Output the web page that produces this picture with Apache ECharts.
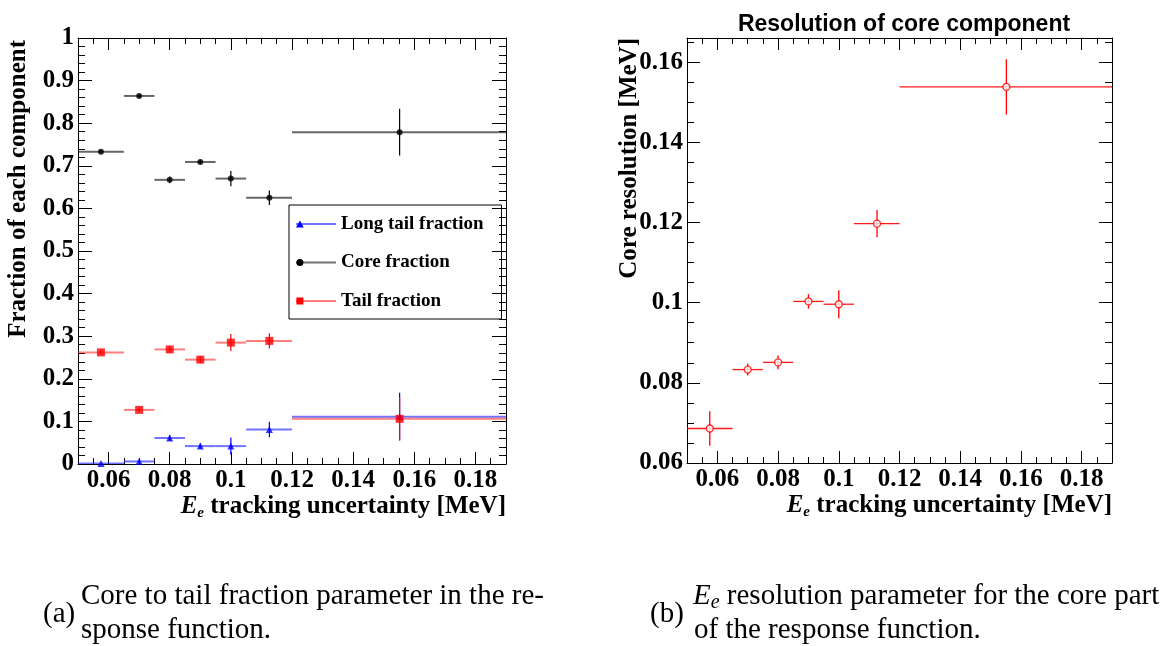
<!DOCTYPE html>
<html><head><meta charset="utf-8">
<script src="https://cdn.jsdelivr.net/npm/echarts@6/dist/echarts.min.js"></script>
<style>html,body{margin:0;padding:0;background:#fff}#c{width:1164px;height:646px}</style>
</head><body><div id="c"></div>
<script>
// ---- data ----
const binLow    = [0.05, 0.065, 0.075, 0.085, 0.095, 0.105, 0.12];
const binHigh   = [0.065, 0.075, 0.085, 0.095, 0.105, 0.12, 0.19];
const binCenter = [0.0575, 0.07, 0.08, 0.09, 0.1, 0.1126, 0.1552];

const longTailFrac = [0.001, 0.006, 0.061, 0.042, 0.042, 0.081, 0.111];
const longTailErr  = [0.001, 0.003, 0.007, 0.006, 0.020, 0.018, 0.056];
const coreFrac     = [0.733, 0.864, 0.667, 0.709, 0.670, 0.625, 0.779];
const coreErr      = [0.004, 0.004, 0.008, 0.005, 0.018, 0.017, 0.055];
const tailFrac     = [0.262, 0.127, 0.269, 0.245, 0.285, 0.289, 0.106];
const tailErr      = [0.005, 0.005, 0.008, 0.008, 0.020, 0.018, 0.050];

const coreRes    = [0.0686, 0.0833, 0.0851, 0.1003, 0.0996, 0.1197, 0.1538];
const coreResErr = [0.0043, 0.0015, 0.0017, 0.0018, 0.0035, 0.0034, 0.0069];

const legendNames = ['Long tail fraction', 'Core fraction', 'Tail fraction'];
const leftTitleY  = 'Fraction of each component';
const rightTitleY = 'Core resolution [MeV]';
const titleX      = '{i|E}{s|e}{n| tracking uncertainty [MeV]}';
const rightTitle  = 'Resolution of core component';

// ---- styling helpers ----
const SERIF = "'Liberation Serif','Times New Roman',serif";
const SANS  = "'Liberation Sans',Arial,sans-serif";

function fmt(step) {
  return function (v) {
    const r = v / step;
    if (Math.abs(r - Math.round(r)) > 1e-6) return '';
    return String(parseFloat(v.toFixed(4)));
  };
}
const labelStyle = {fontFamily: SERIF, fontWeight: 'bold', fontSize: 25, color: '#000'};

function xAxes(gi) {
  const base = {type: 'value', gridIndex: gi, min: 0.05, max: 0.19, splitLine: {show: false}};
  return [
    Object.assign({}, base, {
      position: 'bottom', splitNumber: 7,
      axisLine: {show: true, onZero: false, lineStyle: {color: '#000', width: 1}},
      axisTick: {inside: true, length: 12, lineStyle: {color: '#000', width: 1}},
      axisLabel: Object.assign({margin: 4, formatter: fmt(0.02), showMinLabel: false, showMaxLabel: false}, labelStyle),
      name: titleX, nameLocation: 'end', nameGap: 0, nameMoveOverlap: false,
      nameTextStyle: {
        align: 'right', verticalAlign: 'top', padding: [29, 0, 0, 0], lineHeight: 28, color: '#000',
        rich: {
          i: {fontFamily: SERIF, fontWeight: 'bold', fontStyle: 'italic', fontSize: 25, lineHeight: 28, color: '#000'},
          s: {fontFamily: SERIF, fontWeight: 'bold', fontStyle: 'italic', fontSize: 15, lineHeight: 28, verticalAlign: 'bottom', color: '#000'},
          n: {fontFamily: SERIF, fontWeight: 'bold', fontSize: 25, lineHeight: 28, color: '#000'}
        }
      }
    }),
    Object.assign({}, base, {
      position: 'bottom', interval: 0.005,
      axisLine: {show: false, onZero: false},
      axisTick: {inside: true, length: 6, lineStyle: {color: '#000', width: 1}},
      axisLabel: {show: false}
    }),
    Object.assign({}, base, {
      position: 'top', splitNumber: 7,
      axisLine: {show: true, onZero: false, lineStyle: {color: '#000', width: 1}},
      axisTick: {inside: true, length: 12, lineStyle: {color: '#000', width: 1}},
      axisLabel: {show: false}
    }),
    Object.assign({}, base, {
      position: 'top', interval: 0.005,
      axisLine: {show: false, onZero: false},
      axisTick: {inside: true, length: 6, lineStyle: {color: '#000', width: 1}},
      axisLabel: {show: false}
    })
  ];
}

function yAxes(gi, min, max, major, minor, name, pad, gap, majLen, minLen) {
  const base = {type: 'value', gridIndex: gi, min: min, max: max, splitLine: {show: false}};
  return [
    Object.assign({}, base, {
      position: 'left', interval: major,
      axisLine: {show: true, onZero: false, lineStyle: {color: '#000', width: 1}},
      axisTick: {inside: true, length: majLen, lineStyle: {color: '#000', width: 1}},
      axisLabel: Object.assign({margin: 4, formatter: fmt(major), showMaxLabel: true}, labelStyle),
      name: name, nameLocation: 'end', nameGap: gap, nameRotate: 90, nameMoveOverlap: false,
      nameTextStyle: {fontFamily: SERIF, fontWeight: 'bold', fontSize: 25, lineHeight: 26, color: '#000',
        align: 'right', verticalAlign: 'bottom', padding: [0, 0, pad, 0]}
    }),
    Object.assign({}, base, {
      position: 'left', interval: minor,
      axisLine: {show: false, onZero: false},
      axisTick: {inside: true, length: minLen, lineStyle: {color: '#000', width: 1}},
      axisLabel: {show: false}
    }),
    Object.assign({}, base, {
      position: 'right', interval: major,
      axisLine: {show: true, onZero: false, lineStyle: {color: '#000', width: 1}},
      axisTick: {inside: true, length: majLen, lineStyle: {color: '#000', width: 1}},
      axisLabel: {show: false}
    }),
    Object.assign({}, base, {
      position: 'right', interval: minor,
      axisLine: {show: false, onZero: false},
      axisTick: {inside: true, length: minLen, lineStyle: {color: '#000', width: 1}},
      axisLabel: {show: false}
    })
  ];
}

function errorBars(hColor, vColor, hWidth, vWidth) {
  return function (params, api) {
    const xc = api.value(0), lo = api.value(1), hi = api.value(2), y = api.value(3), e = api.value(4);
    const pL = api.coord([lo, y]), pH = api.coord([hi, y]);
    const pT = api.coord([xc, y + e]), pB = api.coord([xc, y - e]);
    return {type: 'group', children: [
      {type: 'line', shape: {x1: pL[0], y1: pL[1], x2: pH[0], y2: pH[1]}, style: {stroke: hColor, lineWidth: hWidth}},
      {type: 'line', shape: {x1: pT[0], y1: pT[1], x2: pB[0], y2: pB[1]}, style: {stroke: vColor, lineWidth: vWidth}}
    ]};
  };
}
function rows(vals, errs) { return binCenter.map((x, i) => [x, binLow[i], binHigh[i], vals[i], errs[i]]); }
function pts(vals) { return binCenter.map((x, i) => [x, vals[i]]); }

function errSeries(name, xi, yi, vals, errs, hC, vC, hW, vW) {
  return {type: 'custom', name: name, xAxisIndex: xi, yAxisIndex: yi, clip: true, z: 2,
    data: rows(vals, errs), encode: {x: 0, y: 3}, renderItem: errorBars(hC, vC, hW, vW), silent: true};
}
function markSeries(name, xi, yi, vals, symbol, size, style) {
  return {type: 'scatter', name: name, xAxisIndex: xi, yAxisIndex: yi, z: 5, symbol: symbol, symbolSize: size,
    data: pts(vals), itemStyle: style, silent: true};
}

const TRI = 'path://M5,0L10,9L0,9Z';
const SQR = 'path://M0,0H10V10H0Z';
const LINE = 'path://M0,0H40V2.2H0Z';
const legendText = {fontFamily: SERIF, fontWeight: 'bold', fontSize: 19, lineHeight: 20, color: '#000'};
const legendCommon = {orient: 'vertical', left: 289, top: 205, itemWidth: 40, itemHeight: 7, itemGap: 18.5,
  selectedMode: false, padding: [9, 18, 8, 7]};

const CAP = '29px ' + SERIF;

const option = {
  backgroundColor: '#fff',
  animation: false,
  title: {text: rightTitle, left: 899, top: 8, textAlign: 'center',
    textStyle: {fontFamily: SANS, fontWeight: 'bold', fontSize: 23, color: '#000'}},
  grid: [
    {left: 78, top: 38, width: 428, height: 426, outerBoundsMode: 'none'},
    {left: 687, top: 38, width: 425, height: 425, outerBoundsMode: 'none'}
  ],
  xAxis: xAxes(0).concat(xAxes(1)),
  yAxis: yAxes(0, 0, 1, 0.1, 0.02, leftTitleY, 46, -2, 14, 7)
    .concat(yAxes(1, 0.06, 0.166, 0.02, 0.005, rightTitleY, 44, 0, 13, 7)),
  legend: [
    Object.assign({}, legendCommon, {
      borderColor: '#000', borderWidth: 1, textStyle: legendText,
      data: [
        {name: legendNames[0], icon: LINE, itemStyle: {color: 'rgba(40,40,255,0.65)', borderWidth: 0}},
        {name: legendNames[1], icon: LINE, itemStyle: {color: 'rgba(0,0,0,0.55)', borderWidth: 0}},
        {name: legendNames[2], icon: LINE, itemStyle: {color: 'rgba(255,40,40,0.6)', borderWidth: 0}}
      ]
    }),
    Object.assign({}, legendCommon, {
      borderWidth: 0, textStyle: Object.assign({}, legendText, {color: 'rgba(0,0,0,0)'}),
      data: [
        {name: legendNames[0], icon: TRI, itemStyle: {color: '#0000ff', borderWidth: 0}},
        {name: legendNames[1], icon: 'circle', itemStyle: {color: '#000', borderWidth: 0}},
        {name: legendNames[2], icon: SQR, itemStyle: {color: '#ff0000', borderWidth: 0}}
      ]
    })
  ],
  series: [
    errSeries(legendNames[0], 0, 0, longTailFrac, longTailErr, 'rgba(40,40,255,0.65)', '#0000ff', 2, 1.2),
    markSeries(legendNames[0], 0, 0, longTailFrac, 'triangle', 7, {color: '#0000ff'}),
    errSeries(legendNames[1], 0, 0, coreFrac, coreErr, 'rgba(0,0,0,0.6)', '#000', 2, 1.2),
    markSeries(legendNames[1], 0, 0, coreFrac, 'circle', 6, {color: '#000'}),
    errSeries(legendNames[2], 0, 0, tailFrac, tailErr, 'rgba(255,40,40,0.6)', '#ff0000', 2, 1.2),
    markSeries(legendNames[2], 0, 0, tailFrac, 'rect', 8, {color: '#ff0000'}),
    errSeries('Core resolution', 4, 4, coreRes, coreResErr, 'rgba(255,0,0,0.9)', '#ff0000', 1.3, 1.3),
    markSeries('Core resolution', 4, 4, coreRes, 'circle', 7, {color: '#fff', borderColor: '#ff0000', borderWidth: 1.3})
  ],
  graphic: [
    {type: 'text', x: 43, y: 614, style: {text: '(a)', font: CAP, fill: '#000', verticalAlign: 'middle'}},
    {type: 'text', x: 81, y: 596, style: {text: 'Core to tail fraction parameter in the re-', font: CAP, fill: '#000', verticalAlign: 'middle'}},
    {type: 'text', x: 81, y: 630, style: {text: 'sponse function.', font: CAP, fill: '#000', verticalAlign: 'middle'}},
    {type: 'text', x: 650, y: 614, style: {text: '(b)', font: CAP, fill: '#000', verticalAlign: 'middle'}},
    {type: 'text', x: 693, y: 596, style: {
      text: '{i|E}{s|e}{n| resolution parameter for the core part}', verticalAlign: 'middle', fill: '#000',
      rich: {
        i: {fontFamily: SERIF, fontStyle: 'italic', fontSize: 29, lineHeight: 33, fill: '#000'},
        s: {fontFamily: SERIF, fontStyle: 'italic', fontSize: 20, lineHeight: 33, verticalAlign: 'bottom', fill: '#000'},
        n: {fontFamily: SERIF, fontSize: 29, lineHeight: 33, fill: '#000'}
      }}},
    {type: 'text', x: 694, y: 630, style: {text: 'of the response function.', font: CAP, fill: '#000', verticalAlign: 'middle'}}
  ]
};

const chart = echarts.init(document.getElementById('c'), null, {renderer: 'canvas'});
chart.setOption(option);
</script>
</body></html>
